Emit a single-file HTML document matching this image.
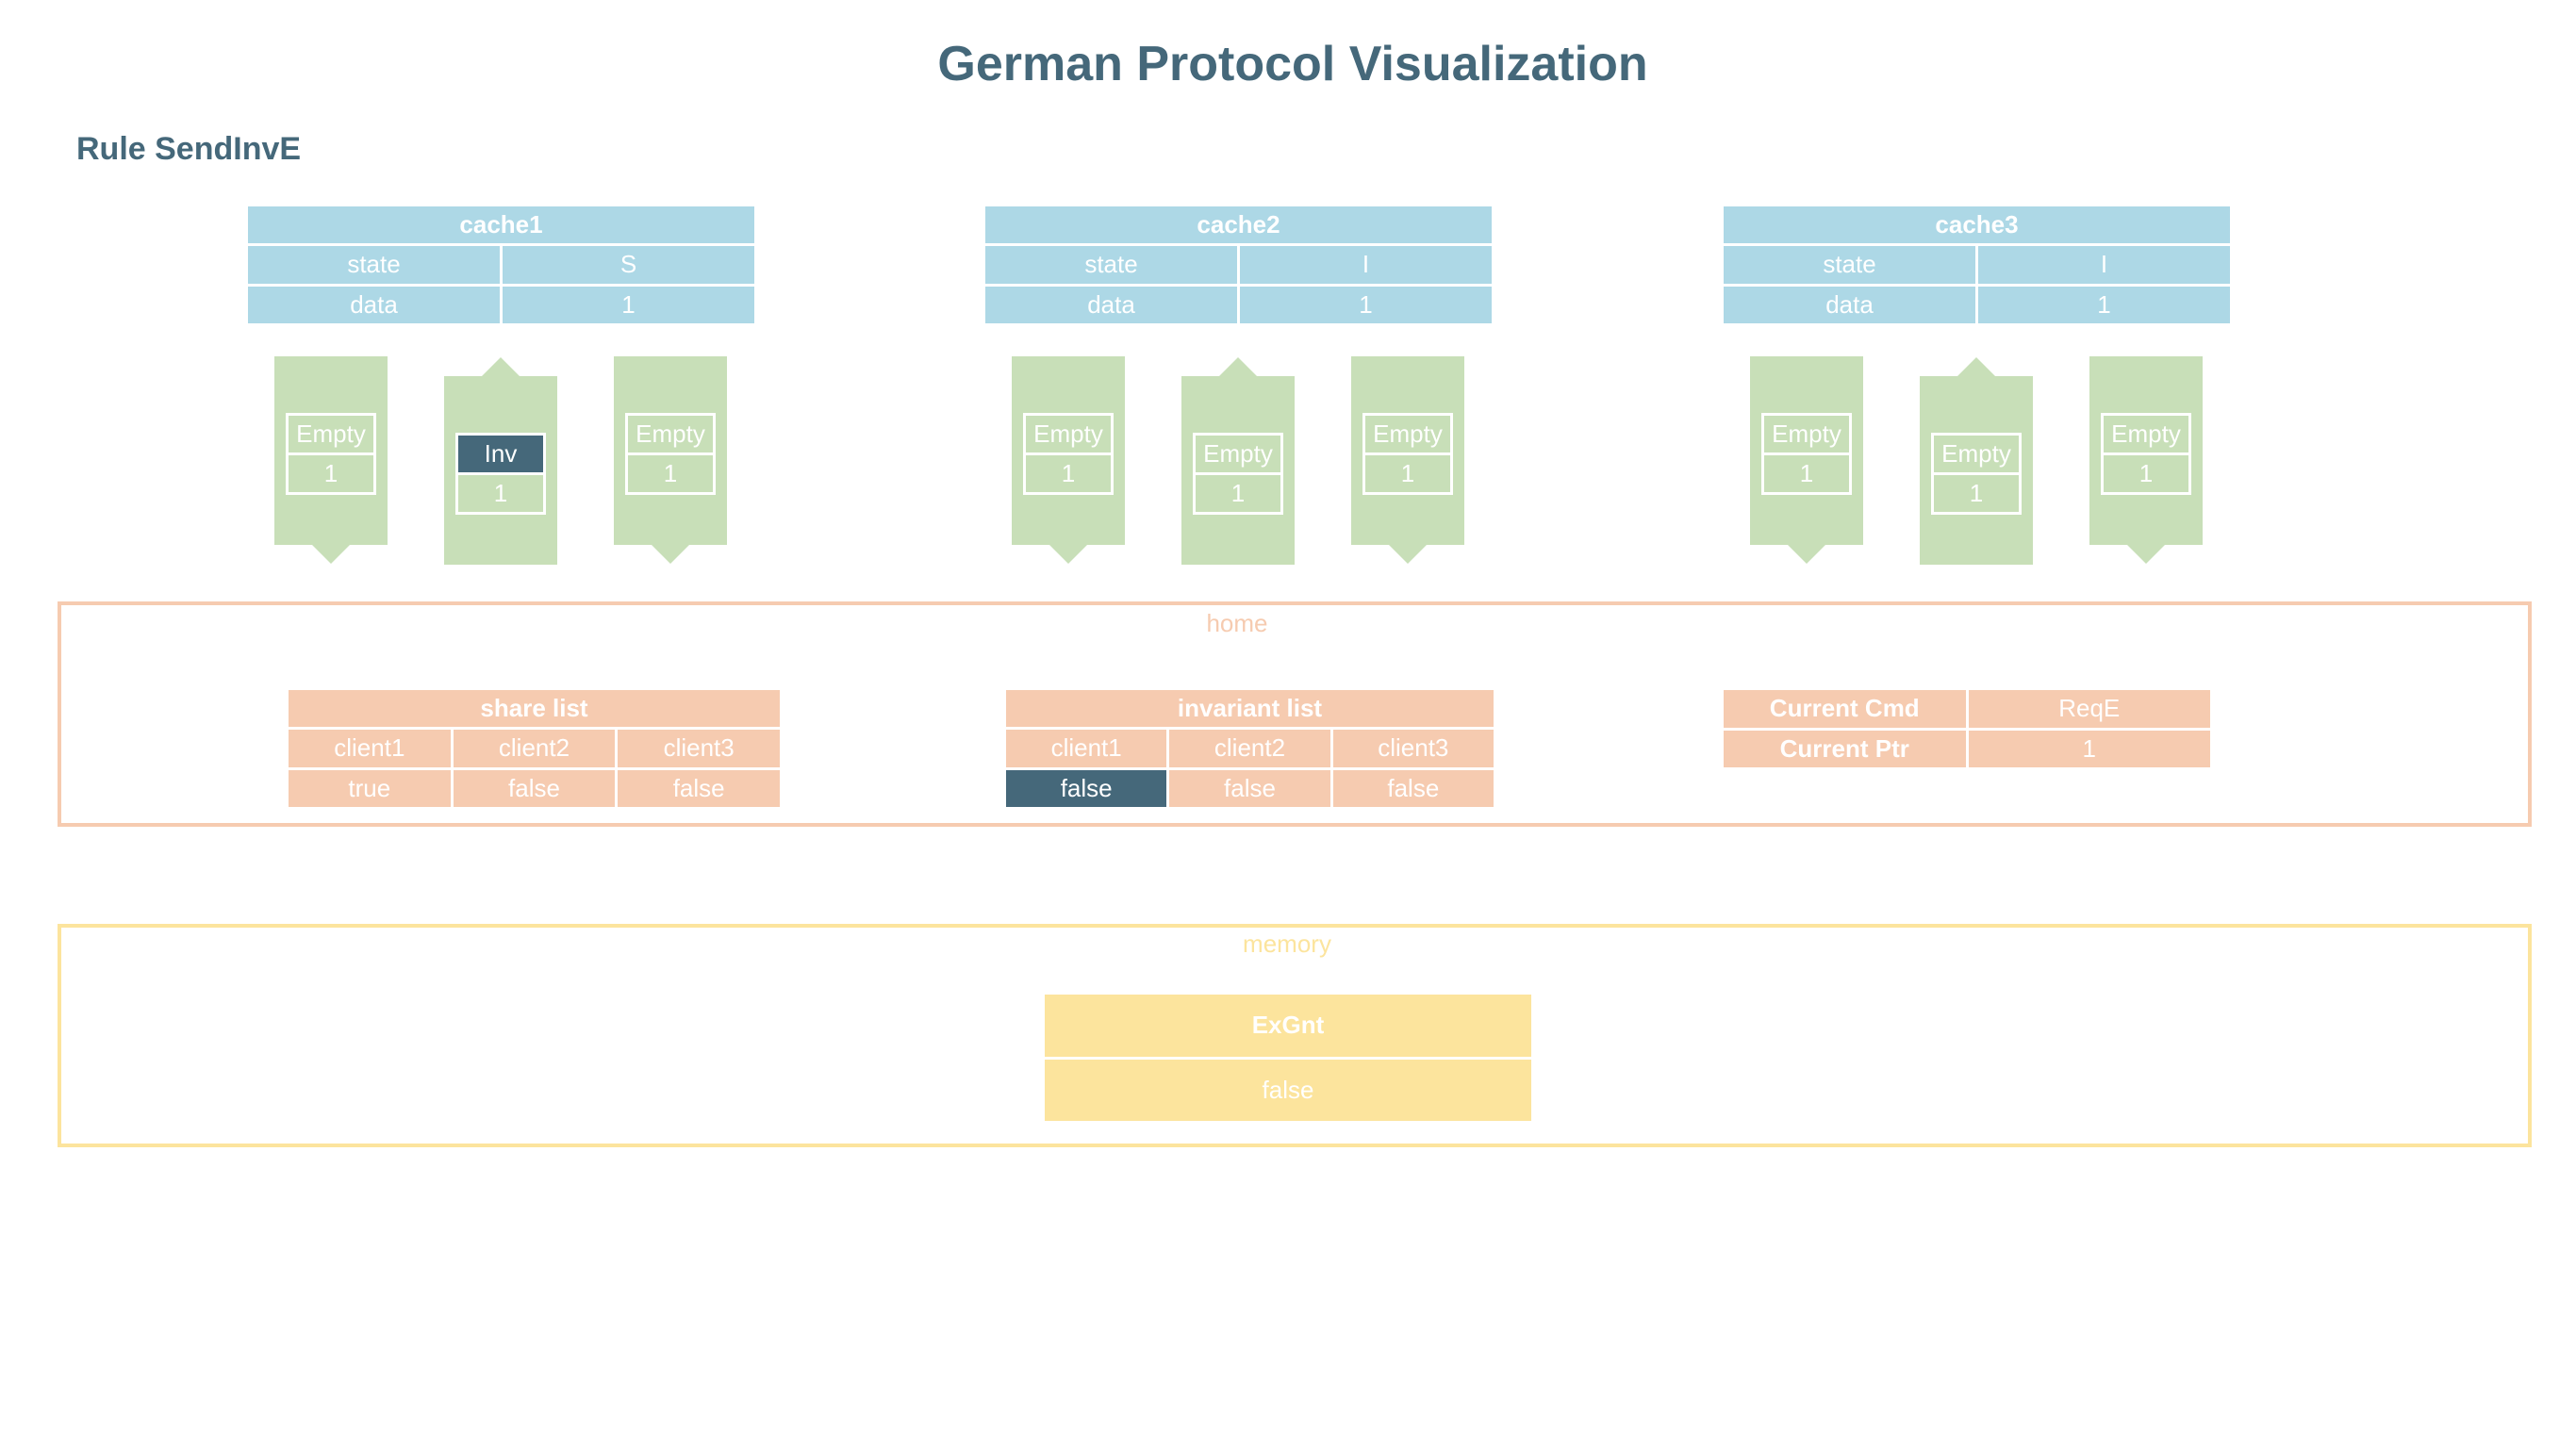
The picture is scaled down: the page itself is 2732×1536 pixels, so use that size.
<!DOCTYPE html>
<html><head><meta charset="utf-8"><style>
*{margin:0;padding:0;box-sizing:border-box}
body{width:2732px;height:1536px;background:#fff;position:relative;overflow:hidden;font-family:"Liberation Sans",sans-serif}
.a{position:absolute}
.t{position:absolute;display:grid;gap:3px;background:#fff}
.t div{display:flex;align-items:center;justify-content:center;color:#fff;font-size:26px}
.b{font-weight:bold}
.blue div{background:#add8e6}
.pe div{background:#f6cbb0}
.ye div{background:#fce49d}
.ch{position:absolute;background:#c8dfb8;width:120px}
.box{position:absolute;width:96px;border:3px solid #fff;display:grid;grid-template-rows:39px 39px;gap:3px;background:#fff}
.box div{background:#c8dfb8;color:#fff;font-size:26px;display:flex;align-items:center;justify-content:center}
.box div.d{background:#45687a}
.tri{position:absolute;width:0;height:0;border-left:20px solid transparent;border-right:20px solid transparent}
.dn{border-top:20px solid #c8dfb8}
.up{border-bottom:20px solid #c8dfb8}
</style></head><body>
<div class="a b" style="left:0;width:2742px;top:38px;text-align:center;font-size:52px;color:#45687a">German Protocol Visualization</div>
<div class="a b" style="left:81px;top:139px;font-size:34px;color:#45687a">Rule SendInvE</div>

<div class="t blue" style="left:263px;top:219px;width:537px;height:124px;grid-template-columns:1fr 1fr;grid-template-rows:1fr 1fr 1fr"><div class="b" style="grid-column:1/3">cache1</div><div>state</div><div>S</div><div>data</div><div>1</div></div>
<div class="t blue" style="left:1045px;top:219px;width:537px;height:124px;grid-template-columns:1fr 1fr;grid-template-rows:1fr 1fr 1fr"><div class="b" style="grid-column:1/3">cache2</div><div>state</div><div>I</div><div>data</div><div>1</div></div>
<div class="t blue" style="left:1828px;top:219px;width:537px;height:124px;grid-template-columns:1fr 1fr;grid-template-rows:1fr 1fr 1fr"><div class="b" style="grid-column:1/3">cache3</div><div>state</div><div>I</div><div>data</div><div>1</div></div>

<div class="ch" style="left:291px;top:378px;height:200px"></div><div class="tri dn" style="left:331px;top:578px"></div>
<div class="box" style="left:303px;top:438px"><div>Empty</div><div>1</div></div>
<div class="ch" style="left:471px;top:399px;height:200px"></div><div class="tri up" style="left:511px;top:379px"></div>
<div class="box" style="left:483px;top:459px"><div class="d">Inv</div><div>1</div></div>
<div class="ch" style="left:651px;top:378px;height:200px"></div><div class="tri dn" style="left:691px;top:578px"></div>
<div class="box" style="left:663px;top:438px"><div>Empty</div><div>1</div></div>

<div class="ch" style="left:1073px;top:378px;height:200px"></div><div class="tri dn" style="left:1113px;top:578px"></div>
<div class="box" style="left:1085px;top:438px"><div>Empty</div><div>1</div></div>
<div class="ch" style="left:1253px;top:399px;height:200px"></div><div class="tri up" style="left:1293px;top:379px"></div>
<div class="box" style="left:1265px;top:459px"><div>Empty</div><div>1</div></div>
<div class="ch" style="left:1433px;top:378px;height:200px"></div><div class="tri dn" style="left:1473px;top:578px"></div>
<div class="box" style="left:1445px;top:438px"><div>Empty</div><div>1</div></div>

<div class="ch" style="left:1856px;top:378px;height:200px"></div><div class="tri dn" style="left:1896px;top:578px"></div>
<div class="box" style="left:1868px;top:438px"><div>Empty</div><div>1</div></div>
<div class="ch" style="left:2036px;top:399px;height:200px"></div><div class="tri up" style="left:2076px;top:379px"></div>
<div class="box" style="left:2048px;top:459px"><div>Empty</div><div>1</div></div>
<div class="ch" style="left:2216px;top:378px;height:200px"></div><div class="tri dn" style="left:2256px;top:578px"></div>
<div class="box" style="left:2228px;top:438px"><div>Empty</div><div>1</div></div>

<div class="a" style="left:61px;top:638px;width:2624px;height:239px;border:4px solid #f6cbb0"></div>
<div class="a" style="left:1212px;width:200px;top:646px;text-align:center;font-size:26px;color:#f6cbb0">home</div>
<div class="t pe" style="left:306px;top:732px;width:521px;height:124px;grid-template-columns:1fr 1fr 1fr;grid-template-rows:1fr 1fr 1fr"><div class="b" style="grid-column:1/4">share list</div><div>client1</div><div>client2</div><div>client3</div><div>true</div><div>false</div><div>false</div></div>
<div class="t pe" style="left:1067px;top:732px;width:517px;height:124px;grid-template-columns:1fr 1fr 1fr;grid-template-rows:1fr 1fr 1fr"><div class="b" style="grid-column:1/4">invariant list</div><div>client1</div><div>client2</div><div>client3</div><div style="background:#45687a">false</div><div>false</div><div>false</div></div>
<div class="t pe" style="left:1828px;top:732px;width:516px;height:82px;grid-template-columns:1fr 1fr;grid-template-rows:1fr 1fr"><div class="b">Current Cmd</div><div>ReqE</div><div class="b">Current Ptr</div><div>1</div></div>

<div class="a" style="left:61px;top:980px;width:2624px;height:237px;border:4px solid #fce49d"></div>
<div class="a" style="left:1265px;width:200px;top:986px;text-align:center;font-size:26px;color:#fce49d">memory</div>
<div class="t ye" style="left:1108px;top:1055px;width:516px;height:134px;grid-template-columns:1fr;grid-template-rows:1fr 1fr"><div class="b">ExGnt</div><div>false</div></div>
</body></html>
